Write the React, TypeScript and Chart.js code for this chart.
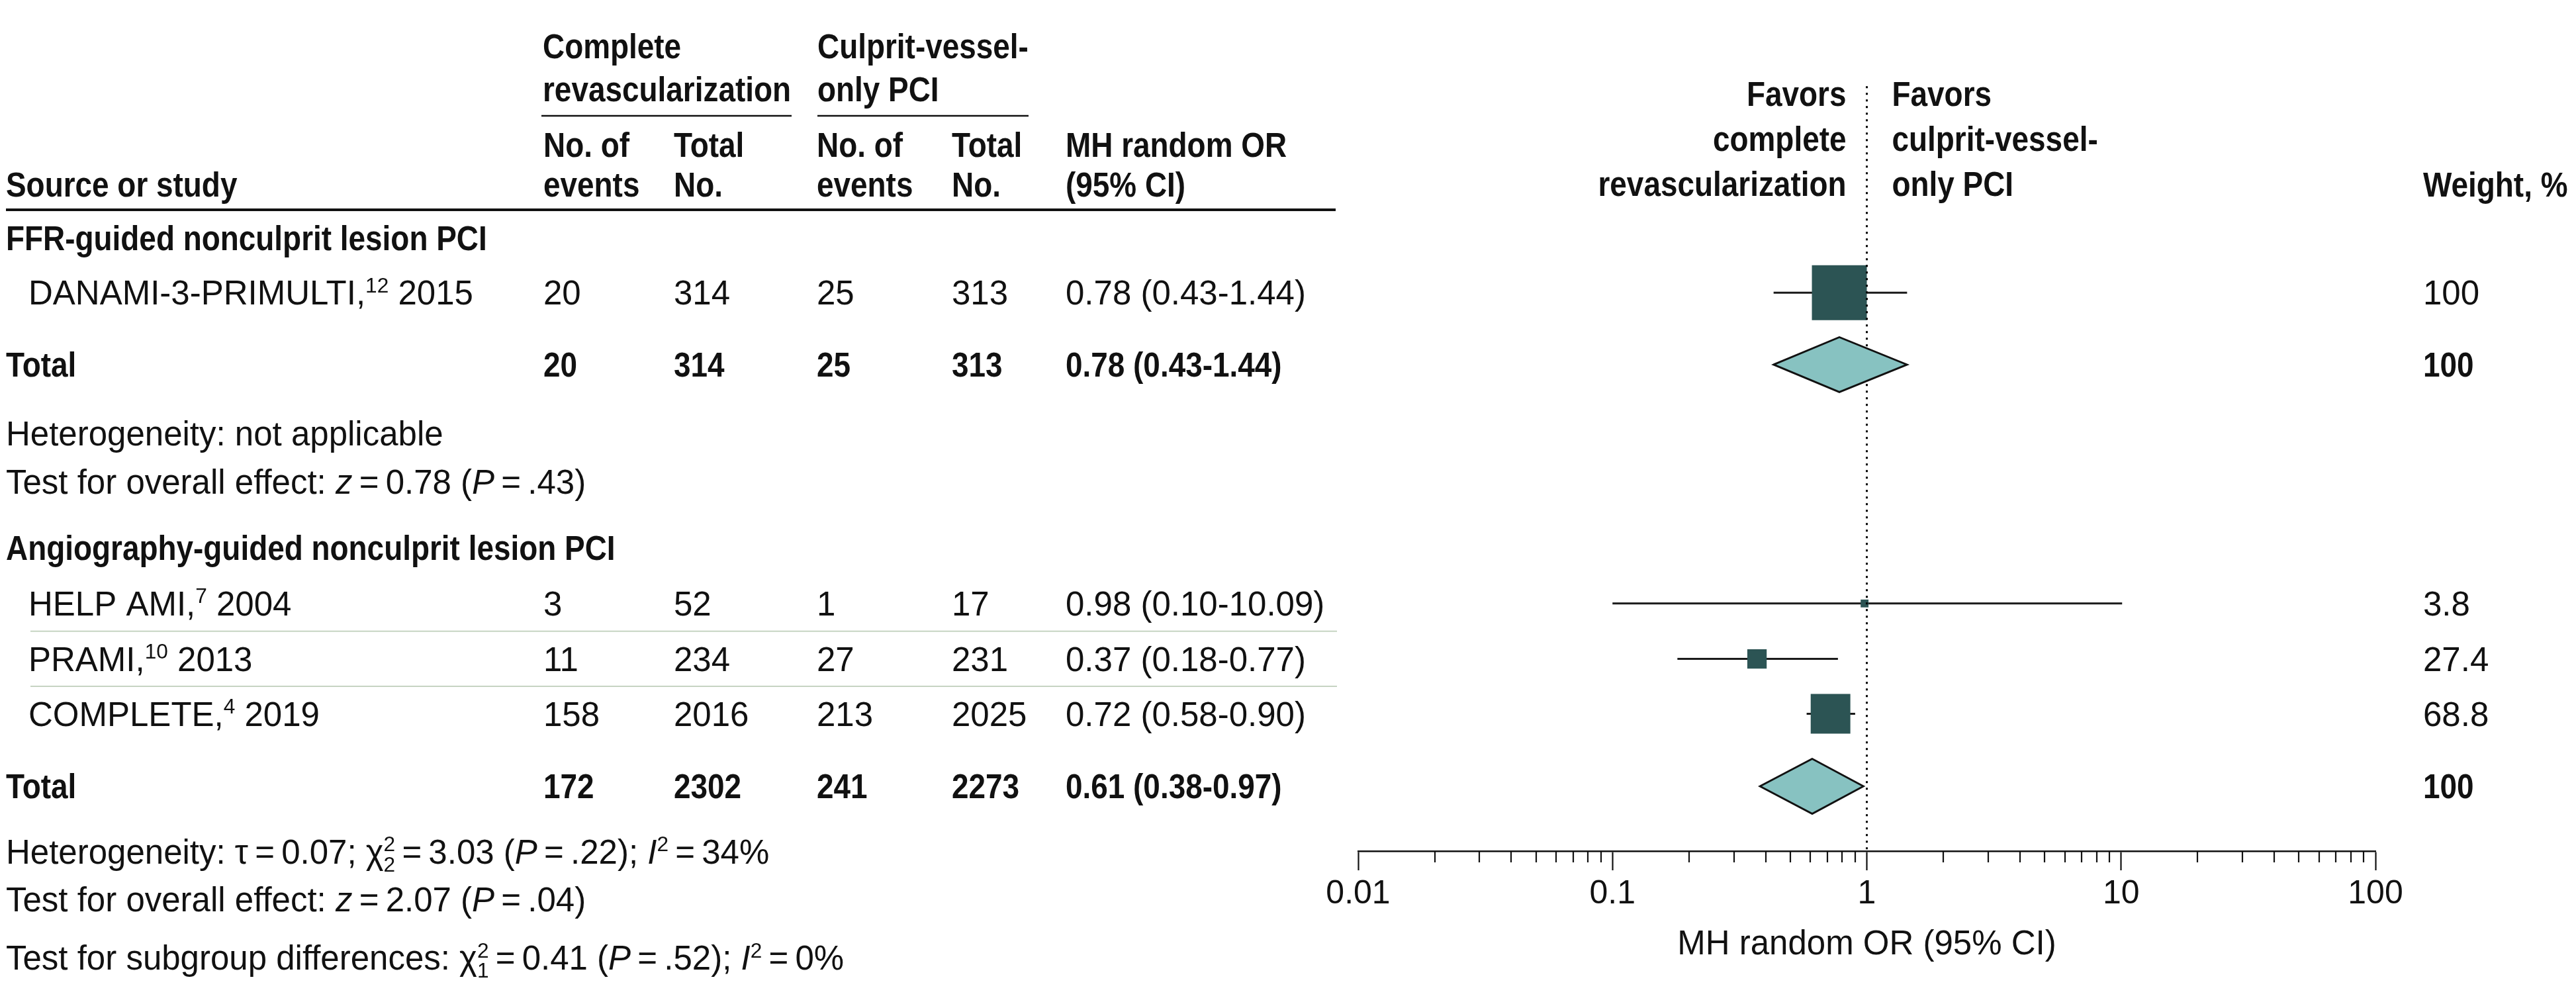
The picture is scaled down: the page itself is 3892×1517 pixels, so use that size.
import React, { useEffect, useRef } from 'react';
import { Chart, registerables } from 'chart.js';
Chart.register(...registerables);

// ---------- data ----------
const studyNames = ['DANAMI-3-PRIMULTI', 'HELP AMI', 'PRAMI', 'COMPLETE'];
const studyRefs = ['12', '7', '10', '4'];
const studyYears = ['2015', '2004', '2013', '2019'];
const eventsComplete = [20, 3, 11, 158];
const totalComplete = [314, 52, 234, 2016];
const eventsCulprit = [25, 1, 27, 213];
const totalCulprit = [313, 17, 231, 2025];
const studyOR = [0.78, 0.98, 0.37, 0.72];
const studyLow = [0.43, 0.1, 0.18, 0.58];
const studyHigh = [1.44, 10.09, 0.77, 0.9];
const studyWeight = [100, 3.8, 27.4, 68.8];

const groupNames = ['FFR-guided nonculprit lesion PCI', 'Angiography-guided nonculprit lesion PCI'];
const groupEventsComplete = [20, 172];
const groupTotalComplete = [314, 2302];
const groupEventsCulprit = [25, 241];
const groupTotalCulprit = [313, 2273];
const groupOR = [0.78, 0.61];
const groupLow = [0.43, 0.38];
const groupHigh = [1.44, 0.97];
const groupWeight = [100, 100];

const axisTicks = [0.01, 0.1, 1, 10, 100];
const axisLabels = ['0.01', '0.1', '1', '10', '100'];

// ---------- layout (row positions in row units) ----------
const ROW_STUDY = [5.33, 10.99, 12.0, 13.0];
const ROW_TOTAL = [6.64, 14.32];
const ROW_GROUP = [4.34, 9.98];
const ROW_HET = [7.89, 15.51];
const ROW_OVERALL = [8.77, 16.38];
const ROW_SUBGROUP = 17.44;

const FS = 51;
const FAMILY = '"Liberation Sans", Arial, sans-serif';
const TXT = '#111';
const SQUARE = '#2C5454';
const DIAMOND = '#87C2C1';

type Seg = { t?: string; i?: boolean; sup?: boolean; ss?: [string, string] };

function fnt(size: number, bold: boolean, italic: boolean) {
  return `${italic ? 'italic ' : ''}${bold ? 'bold ' : ''}${size}px ${FAMILY}`;
}

function drawRich(ctx: CanvasRenderingContext2D, segs: Seg[], x: number, y: number, bold = false, align: 'left' | 'right' = 'left') {
  const hs = bold ? 0.9 : 1;
  const small = FS * 0.62;
  const parts = segs.map((s) => {
    if (s.ss) {
      ctx.font = fnt(small, bold, false);
      return { s, w: Math.max(ctx.measureText(s.ss[0]).width, ctx.measureText(s.ss[1]).width) };
    }
    ctx.font = fnt(s.sup ? small : FS, bold, !!s.i);
    return { s, w: ctx.measureText(s.t || '').width };
  });
  const total = parts.reduce((a, p) => a + p.w, 0) * hs;
  ctx.save();
  ctx.translate(align === 'right' ? x - total : x, y);
  ctx.scale(hs, 1);
  ctx.textBaseline = 'alphabetic';
  ctx.textAlign = 'left';
  ctx.fillStyle = TXT;
  let cx = 0;
  for (const p of parts) {
    const s = p.s;
    if (s.ss) {
      ctx.font = fnt(small, bold, false);
      ctx.fillText(s.ss[0], cx, -FS * 0.36);
      ctx.fillText(s.ss[1], cx, FS * 0.24);
    } else {
      ctx.font = fnt(s.sup ? small : FS, bold, !!s.i);
      ctx.fillText(s.t || '', cx, s.sup ? -FS * 0.36 : 0);
    }
    cx += p.w;
  }
  ctx.restore();
}

const ts = '\u2009';
const footHet = [
  [{ t: 'Heterogeneity: not applicable' }],
  [
    { t: `Heterogeneity: τ${ts}=${ts}0.07; χ` }, { ss: ['2', '2'] as [string, string] }, { t: `${ts}=${ts}3.03 (` },
    { t: 'P', i: true }, { t: `${ts}=${ts}.22); ` }, { t: 'I', i: true }, { t: '2', sup: true }, { t: `${ts}=${ts}34%` },
  ],
];
const footOverall = [
  [{ t: 'Test for overall effect: ' }, { t: 'z', i: true }, { t: `${ts}=${ts}0.78 (` }, { t: 'P', i: true }, { t: `${ts}=${ts}.43)` }],
  [{ t: 'Test for overall effect: ' }, { t: 'z', i: true }, { t: `${ts}=${ts}2.07 (` }, { t: 'P', i: true }, { t: `${ts}=${ts}.04)` }],
];
const footSubgroup: Seg[] = [
  { t: 'Test for subgroup differences: χ' }, { ss: ['2', '1'] }, { t: `${ts}=${ts}0.41 (` }, { t: 'P', i: true },
  { t: `${ts}=${ts}.52); ` }, { t: 'I', i: true }, { t: '2', sup: true }, { t: `${ts}=${ts}0%` },
];

const fmtCI = (o: number, l: number, h: number) => `${o.toFixed(2)} (${l.toFixed(2)}-${h.toFixed(2)})`;

const minorTicks: number[] = [];
axisTicks.slice(0, -1).forEach((d) => { for (let m = 2; m <= 9; m++) minorTicks.push(+(d * m).toPrecision(3)); });
const allTicks = [...axisTicks, ...minorTicks].sort((a, b) => a - b);
const majorIndex = (v: number) => axisTicks.findIndex((t) => Math.abs(Math.log10(t) - Math.log10(v)) < 1e-6);

const COLS = { c1: 821, c2: 1018, c3: 1234, c4: 1438, c5: 1610, w: 3661 };

const tablePlugin = {
  id: 'forestTable',
  afterDraw(chart: any) {
    const ctx: CanvasRenderingContext2D = chart.ctx;
    const xs = chart.scales.x;
    const ys = chart.scales.y;
    const Y = (u: number) => ys.getPixelForValue(u);
    const B = (u: number) => Y(u) + 18;
    const line = (x1: number, x2: number, y: number, w: number, c: string) => {
      ctx.save(); ctx.strokeStyle = c; ctx.lineWidth = w; ctx.beginPath(); ctx.moveTo(x1, y); ctx.lineTo(x2, y); ctx.stroke(); ctx.restore();
    };
    const txt = (s: string, x: number, u: number, bold = false, align: 'left' | 'right' = 'left') => drawRich(ctx, [{ t: s }], x, B(u), bold, align);

    // headers
    txt('Complete', COLS.c1 - 1, 0.84, true);
    txt('revascularization', COLS.c1 - 1, 1.63, true);
    line(818, 1196, Y(2.11), 2.5, '#111');
    txt('Culprit-vessel-', COLS.c3 + 1, 0.84, true);
    txt('only PCI', COLS.c3 + 1, 1.63, true);
    line(1235, 1554, Y(2.11), 2.5, '#111');
    txt('No. of', COLS.c1, 2.64, true); txt('events', COLS.c1, 3.36, true);
    txt('Total', COLS.c2, 2.64, true); txt('No.', COLS.c2, 3.36, true);
    txt('No. of', COLS.c3, 2.64, true); txt('events', COLS.c3, 3.36, true);
    txt('Total', COLS.c4, 2.64, true); txt('No.', COLS.c4, 3.36, true);
    txt('MH random OR', COLS.c5, 2.64, true); txt('(95% CI)', COLS.c5, 3.36, true);
    txt('Source or study', 9, 3.36, true);
    txt('Weight, %', COLS.w, 3.36, true);
    const x1 = xs.getPixelForValue(1);
    txt('Favors', x1 - 31, 1.71, true, 'right');
    txt('complete', x1 - 31, 2.53, true, 'right');
    txt('revascularization', x1 - 31, 3.35, true, 'right');
    txt('Favors', x1 + 38, 1.71, true);
    txt('culprit-vessel-', x1 + 38, 2.53, true);
    txt('only PCI', x1 + 38, 3.35, true);
    line(9, 2018, Y(3.82), 4, '#111');

    // groups
    groupNames.forEach((g, gi) => {
      txt(g, 9, ROW_GROUP[gi], true);
      const u = ROW_TOTAL[gi];
      txt('Total', 9, u, true);
      txt(String(groupEventsComplete[gi]), COLS.c1, u, true);
      txt(String(groupTotalComplete[gi]), COLS.c2, u, true);
      txt(String(groupEventsCulprit[gi]), COLS.c3, u, true);
      txt(String(groupTotalCulprit[gi]), COLS.c4, u, true);
      txt(fmtCI(groupOR[gi], groupLow[gi], groupHigh[gi]), COLS.c5, u, true);
      txt(String(groupWeight[gi]), COLS.w, u, true);
      drawRich(ctx, footHet[gi] as Seg[], 9, B(ROW_HET[gi]));
      drawRich(ctx, footOverall[gi] as Seg[], 9, B(ROW_OVERALL[gi]));
    });
    drawRich(ctx, footSubgroup, 9, B(ROW_SUBGROUP));

    // studies
    studyNames.forEach((n, i) => {
      const u = ROW_STUDY[i];
      drawRich(ctx, [{ t: n + ',' }, { t: studyRefs[i], sup: true }, { t: ' ' + studyYears[i] }], 43, B(u));
      txt(String(eventsComplete[i]), COLS.c1, u);
      txt(String(totalComplete[i]), COLS.c2, u);
      txt(String(eventsCulprit[i]), COLS.c3, u);
      txt(String(totalCulprit[i]), COLS.c4, u);
      txt(fmtCI(studyOR[i], studyLow[i], studyHigh[i]), COLS.c5, u);
      txt(String(studyWeight[i]), COLS.w, u);
    });
    // separators between angiography studies
    line(46, 2020, Y((ROW_STUDY[1] + ROW_STUDY[2]) / 2), 2, '#C6D4C2');
    line(46, 2020, Y((ROW_STUDY[2] + ROW_STUDY[3]) / 2), 2, '#C6D4C2');

    // minor ticks
    const yb = chart.chartArea.bottom;
    ctx.save(); ctx.strokeStyle = '#111'; ctx.lineWidth = 2.2;
    minorTicks.forEach((v) => {
      const x = Math.round(xs.getPixelForValue(v));
      ctx.beginPath(); ctx.moveTo(x, yb); ctx.lineTo(x, yb + 17); ctx.stroke();
    });
    ctx.restore();
  },
};

function buildConfig(): any {
  const datasets: any[] = [];
  // diamonds (top)
  groupOR.forEach((o, gi) => {
    const y = ROW_TOTAL[gi];
    datasets.push({
      type: 'line', order: 1,
      data: [
        { x: groupLow[gi], y }, { x: o, y: y - 0.5 }, { x: groupHigh[gi], y }, { x: o, y: y + 0.5 }, { x: groupLow[gi], y }, { x: o, y: y - 0.5 },
      ],
      borderColor: '#111', borderWidth: 2.8, backgroundColor: DIAMOND, fill: 'shape', pointRadius: 0, tension: 0,
      borderJoinStyle: 'miter',
    });
  });
  // reference line at OR = 1
  datasets.push({
    type: 'line', order: 2,
    data: [{ x: 1, y: 1.57 }, { x: 1, y: 15.5 }],
    borderColor: '#000', borderWidth: 3, borderDash: [3, 7], pointRadius: 0, fill: false,
  });
  // squares
  datasets.push({
    type: 'scatter', order: 3,
    data: studyOR.map((o, i) => ({ x: o, y: ROW_STUDY[i] })),
    pointStyle: 'rect',
    pointRadius: studyWeight.map((w) => (9 + 0.74 * w) / Math.SQRT2),
    pointHoverRadius: studyWeight.map((w) => (9 + 0.74 * w) / Math.SQRT2),
    backgroundColor: SQUARE, borderColor: SQUARE, borderWidth: 0,
  });
  // CI lines
  studyOR.forEach((_, i) => {
    datasets.push({
      type: 'line', order: 4,
      data: [{ x: studyLow[i], y: ROW_STUDY[i] }, { x: studyHigh[i], y: ROW_STUDY[i] }],
      borderColor: '#1A1A1A', borderWidth: 3, pointRadius: 0, fill: false,
    });
  });

  return {
    type: 'scatter',
    data: { datasets },
    plugins: [tablePlugin],
    options: {
      responsive: false,
      animation: false,
      events: [],
      layout: { autoPadding: false, padding: { left: 2052, right: 303, top: 0, bottom: 0 } },
      plugins: { legend: { display: false }, tooltip: { enabled: false } },
      scales: {
        x: {
          type: 'logarithmic', position: 'bottom', min: 0.01, max: 100,
          afterBuildTicks: (s: any) => { s.ticks = allTicks.map((v) => ({ value: v })); },
          afterFit: (s: any) => { s.height = 231; },
          ticks: {
            autoSkip: false, maxRotation: 0, minRotation: 0, padding: 6, color: TXT,
            font: { family: FAMILY, size: 50 },
            callback: (v: number) => { const k = majorIndex(v); return k >= 0 ? axisLabels[k] : ''; },
          },
          grid: {
            display: true, drawOnChartArea: false, drawTicks: true, tickLength: 29, tickWidth: 2.2,
            tickColor: (c: any) => (c.tick && majorIndex(c.tick.value) >= 0 ? '#111' : 'rgba(0,0,0,0)'),
          },
          border: { display: true, color: '#111', width: 2.5 },
          title: {
            display: true, text: 'MH random OR (95% CI)', color: TXT,
            font: { family: FAMILY, size: 51 }, padding: { top: 0, bottom: 58 },
          },
        },
        y: { type: 'linear', display: false, min: 0, max: 15.5, reverse: true },
      },
    },
  };
}

export default function App() {
  const ref = useRef<HTMLCanvasElement>(null);
  useEffect(() => {
    if (!ref.current) return;
    const chart = new Chart(ref.current, buildConfig());
    return () => chart.destroy();
  }, []);
  return (
    <div style={{ position: 'fixed', left: 0, top: 0, width: 3892, height: 1517, background: '#fff' }}>
      <canvas ref={ref} width={3892} height={1517} style={{ display: 'block' }} />
    </div>
  );
}
